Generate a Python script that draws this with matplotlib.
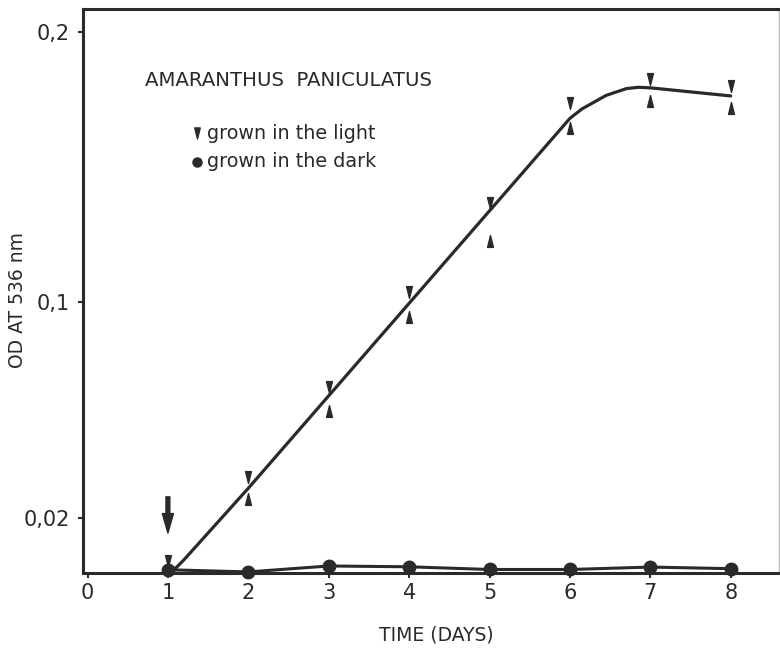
import matplotlib
matplotlib.use("Agg")
import matplotlib.pyplot as plt
from matplotlib.path import Path

plt.rcParams['font.family'] = ['DejaVu Sans']

# ---- data ----
days = [1, 2, 3, 4, 5, 6, 7, 8]
light_mean = [0.0010, 0.0310, 0.0640, 0.0990, 0.1296, 0.1690, 0.1785, 0.1760]
light_err = [0.0030, 0.0040, 0.0044, 0.0045, 0.0070, 0.0045, 0.0039, 0.0040]
dark_mean = [0.0008, 0.0000, 0.0022, 0.0019, 0.0009, 0.0009, 0.0018, 0.0012]

# hand-drawn fitted curve through the light-grown data
curve_x = [1.0, 1.1, 1.2, 2.0, 6.0, 6.15, 6.3, 6.45, 6.7, 6.85, 7.0, 8.0]
curve_y = [0.0008, 0.0015, 0.0045, 0.0310, 0.1680, 0.1715, 0.1740, 0.1765, 0.1790, 0.1795, 0.1793, 0.1763]

x_ticks = [0, 1, 2, 3, 4, 5, 6, 7, 8]
x_ticklabels = ['0', '1', '2', '3', '4', '5', '6', '7', '8']
y_ticks = [0.02, 0.1, 0.2]
y_ticklabels = ['0,02', '0,1', '0,2']

title_text = 'AMARANTHUS  PANICULATUS'
legend_labels = ['grown in the light', 'grown in the dark']
xlabel = 'TIME (DAYS)'
ylabel = 'OD AT 536 nm'

# ---- drawing ----
fig = plt.figure(figsize=(7.8, 6.52), dpi=100)
ax = fig.add_axes([83 / 780, 1 - 573 / 652, (779 - 83) / 780, (573 - 9) / 652])
ax.set_xlim(-0.056, 8.6)
ax.set_ylim(-0.0004, 0.2085)

ink = '#2a2a2a'
down_tri = Path([(-0.5, 1.0), (0.5, 1.0), (0.0, -1.0), (-0.5, 1.0)],
                [Path.MOVETO, Path.LINETO, Path.LINETO, Path.CLOSEPOLY])
up_tri = Path([(-0.5, -1.0), (0.5, -1.0), (0.0, 1.0), (-0.5, -1.0)],
              [Path.MOVETO, Path.LINETO, Path.LINETO, Path.CLOSEPOLY])

# fitted curve
ax.plot(curve_x, curve_y, color=ink, lw=2.3, solid_capstyle='round', zorder=3)

# error markers: down triangle above mean, up triangle below mean
top = [m + e for m, e in zip(light_mean, light_err)]
bot = [m - e for m, e in zip(light_mean, light_err)]
ax.plot(days, top, linestyle='none', marker=down_tri, markersize=8.5,
        color=ink, mec=ink, zorder=4)
ax.plot(days[1:], bot[1:], linestyle='none', marker=up_tri, markersize=8.5,
        color=ink, mec=ink, zorder=4)

# dark-grown
ax.plot(days, dark_mean, color=ink, lw=2.2, marker='o', markersize=9,
        mfc=ink, mec=ink, zorder=5, clip_on=False)

# arrow marking day 1
ax.annotate('', xy=(1, 0.0144), xytext=(1, 0.0278),
            arrowprops=dict(facecolor=ink, edgecolor=ink, width=2.8,
                            headwidth=8, headlength=14, shrink=0))

# spines and ticks
for side in ['left', 'bottom', 'top']:
    ax.spines[side].set_linewidth(2.2)
    ax.spines[side].set_color(ink)
ax.spines['right'].set_linewidth(1.0)
ax.spines['right'].set_color('#bbbbbb')
ax.set_xticks(x_ticks)
ax.set_xticklabels(x_ticklabels)
ax.set_yticks(y_ticks)
ax.set_yticklabels(y_ticklabels)
ax.tick_params(axis='both', direction='out', length=3.5, width=1.5, color=ink,
               labelsize=15, labelcolor=ink)
ax.tick_params(axis='x', pad=4)
ax.tick_params(axis='y', pad=6)

# title and legend inside the plot
ax.text(0.089, 0.874, title_text, transform=ax.transAxes, fontsize=14.2,
        color=ink, va='center', ha='left')
ax.plot([0.164], [0.780], transform=ax.transAxes, marker=down_tri,
        markersize=8, color=ink, linestyle='none')
ax.plot([0.164], [0.729], transform=ax.transAxes, marker='o',
        markersize=6.5, color=ink, linestyle='none')
ax.text(0.178, 0.780, legend_labels[0], transform=ax.transAxes, fontsize=13.8,
        color=ink, va='center', ha='left')
ax.text(0.178, 0.729, legend_labels[1], transform=ax.transAxes, fontsize=13.8,
        color=ink, va='center', ha='left')

fig.text(436 / 780, 1 - 635 / 652, xlabel, fontsize=13.5, color=ink,
         ha='center', va='center')
fig.text(18 / 780, 1 - 300 / 652, ylabel, fontsize=13.5, color=ink,
         ha='center', va='center', rotation=90)

fig.savefig('out.png', dpi=100)
